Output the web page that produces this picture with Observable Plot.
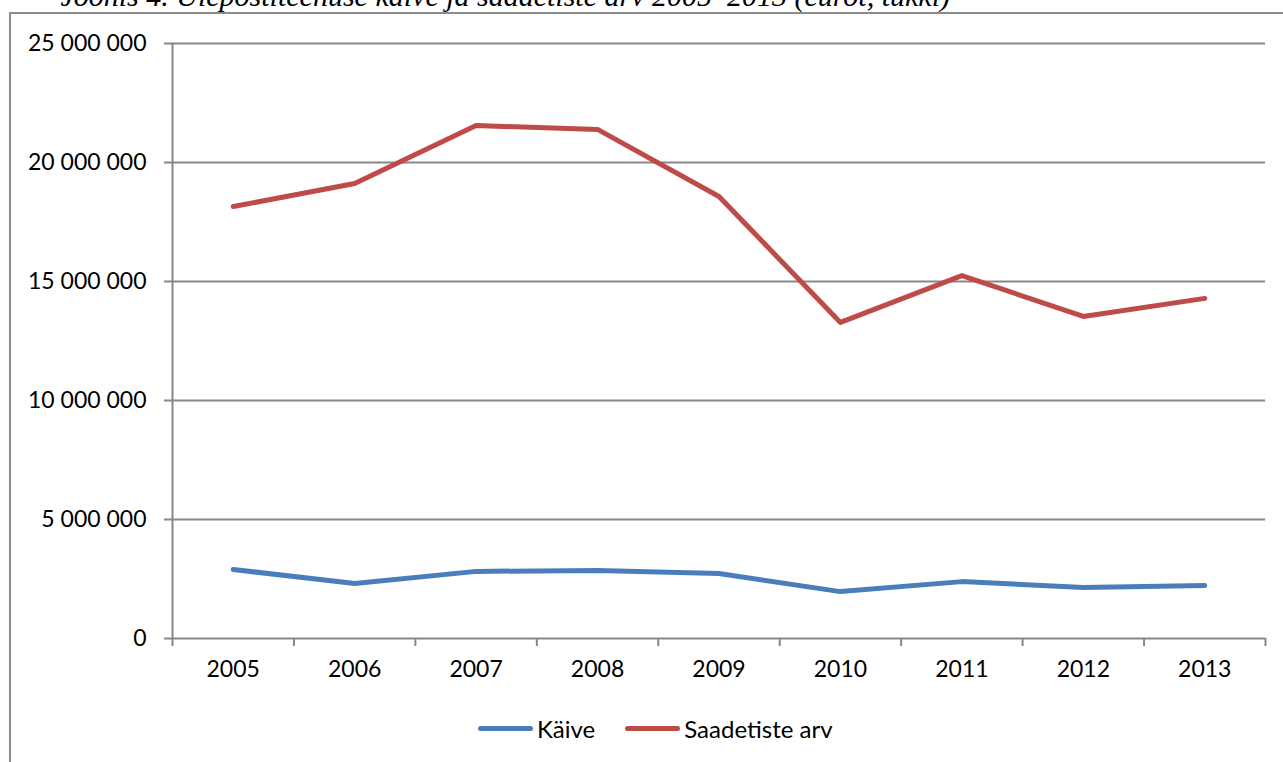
<!DOCTYPE html>
<html>
<head>
<meta charset="utf-8">
<script src="https://cdn.jsdelivr.net/npm/d3@7"></script>
<script src="https://cdn.jsdelivr.net/npm/@observablehq/plot@0.6"></script>
<style>
  html, body { margin: 0; padding: 0; background: #fff; overflow: hidden; }
  #page { position: relative; width: 1283px; height: 762px; overflow: hidden; }
  #title { position: absolute; top: -19px; right: 333px; white-space: nowrap;
           font-family: "Liberation Serif", serif; font-style: italic; font-size: 30px; line-height: 30px; color: #000; }
  #frame { position: absolute; left: 9px; top: 12px; width: 1300px; height: 800px;
           border-left: 2px solid #8c8c8c; border-top: 2px solid #8c8c8c; background: #fff; }
  #chart { position: absolute; left: 0; top: 0; }
  #legend { position: absolute; top: 714px; left: 478px; display: flex; align-items: center;
            font-family: Lato, sans-serif; font-size: 24px; color: #000; }
  .sw { display: inline-block; width: 55px; height: 5px; border-radius: 3px; margin-right: 4px; }
  .item { display: flex; align-items: center; margin-right: 30px; }
</style>
</head>
<body>
<div id="page">
  <div id="title">Joonis 4. Ülepostiteenuse käive ja saadetiste arv 2005–2013 (eurot, tükki)</div>
  <div id="frame"></div>
  <div id="chart"></div>
  <div id="legend"></div>
</div>
<script>
const years = [2005, 2006, 2007, 2008, 2009, 2010, 2011, 2012, 2013];
const kaive = [2900000, 2310000, 2820000, 2860000, 2730000, 1970000, 2390000, 2140000, 2230000];
const saadetisteArv = [18150000, 19120000, 21550000, 21390000, 18570000, 13280000, 15250000, 13530000, 14290000];
const seriesNames = ["Käive", "Saadetiste arv"];
const seriesColors = ["#4A7EBB", "#BE4B48"];
const yTicks = [0, 5000000, 10000000, 15000000, 20000000, 25000000];

const data = [
  ...years.map((y, i) => ({year: y, value: kaive[i], series: seriesNames[0]})),
  ...years.map((y, i) => ({year: y, value: saadetisteArv[i], series: seriesNames[1]}))
];
const boundaries = [...years.map(y => y - 0.5), years[years.length - 1] + 0.5];
const fmt = v => d3.format(",")(v).replace(/,/g, " ");
const gridCol = "#878787";

const chart = Plot.plot({
  width: 1283,
  height: 762,
  marginLeft: 172,
  marginRight: 18,
  marginTop: 43,
  marginBottom: 124,
  style: {fontFamily: "Lato, sans-serif", fontSize: "23px", color: "#000", background: "transparent"},
  x: {type: "linear", domain: [years[0] - 0.5, years[years.length - 1] + 0.5]},
  y: {domain: [0, 25000000]},
  color: {domain: seriesNames, range: seriesColors},
  marks: [
    Plot.gridY(yTicks.slice(1), {stroke: gridCol, strokeOpacity: 1, strokeWidth: 2}),
    Plot.axisY({ticks: yTicks, tickFormat: fmt, tickSize: 8, tickPadding: 18, stroke: gridCol, strokeWidth: 2, label: null, fill: "#000"}),
    Plot.axisX({ticks: years, tickFormat: d => String(d), tickSize: 0, tickPadding: 22, label: null, fill: "#000"}),
    Plot.axisX({ticks: boundaries, tickFormat: () => "", tickSize: 8, stroke: gridCol, strokeWidth: 2, label: null}),
    Plot.ruleY([0], {stroke: gridCol, strokeWidth: 2}),
    Plot.ruleX([years[0] - 0.5], {stroke: gridCol, strokeWidth: 2}),
    Plot.line(data, {x: "year", y: "value", stroke: "series", z: "series", strokeWidth: 5, strokeLinejoin: "round", strokeLinecap: "round"})
  ]
});
document.getElementById("chart").appendChild(chart);

const legend = document.getElementById("legend");
seriesNames.forEach((n, i) => {
  const it = document.createElement("div");
  it.className = "item";
  const sw = document.createElement("span");
  sw.className = "sw";
  sw.style.background = seriesColors[i];
  it.appendChild(sw);
  const t = document.createElement("span");
  t.textContent = n;
  it.appendChild(t);
  legend.appendChild(it);
});
</script>
</body>
</html>
